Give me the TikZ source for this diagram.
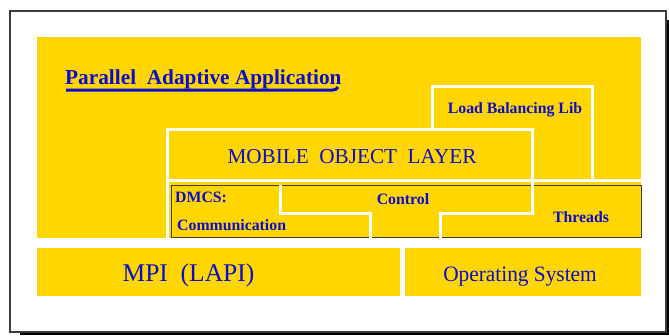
\documentclass[tikz,border=0pt]{standalone}
\usepackage{fontspec}
\setmainfont{Liberation Serif}
\definecolor{gold}{RGB}{255,214,0}
\definecolor{txtblue}{RGB}{12,12,205}
\definecolor{framegray}{RGB}{60,60,60}
\begin{document}
\begin{tikzpicture}[x=1pt,y=-1pt,
  layer/.style={fill=gold,draw=none},
  sep/.style={draw=white,line width=3pt,line cap=rect,line join=miter},
  lbl/.style={text=txtblue,inner sep=0pt,font=\bfseries\fontsize{15.8}{18}\selectfont},
  biglbl/.style={text=txtblue,inner sep=0pt}]
\useasboundingbox (0,0) rectangle (669,335);
% frame with drop shadow
\fill[black] (20,20) rectangle (669,335);
\draw[fill=white,draw=framegray,line width=1.2pt] (10,11) rectangle (666,332);
% yellow layers
\fill[layer] (37,37) rectangle (641,238);
\fill[layer] (37,248) rectangle (400,296);
\fill[layer] (405,248) rectangle (641,296);
% runtime bar
\draw[fill=gold,draw=framegray,line width=1pt] (171,185) rectangle (641,237);
% white separators
\draw[sep] (432,129) -- (432,86) -- (592,86) -- (592,180);
\draw[sep] (167,238) -- (167,129) -- (532,129) -- (532,213) -- (440,213) -- (440,237.5);
\draw[sep] (167,180) -- (641,180);
\draw[sep] (280,186) -- (280,213) -- (370,213) -- (370,237.5);
% texts
\node[biglbl,anchor=base west,font=\bfseries\fontsize{21.3}{24}\selectfont] (app) at (65,84) {Parallel\ \ Adaptive Application};
\draw[txtblue,line width=3pt] (66,90) -- (333,90) to[out=0,in=-120] (338,87);
\node[lbl,anchor=base] (lb) at (515,113) {Load Balancing Lib};
\node[biglbl,anchor=base,font=\fontsize{21.2}{24}\selectfont] (mol) at (352,163) {MOBILE\ \ OBJECT\ \ LAYER};
\node[lbl,anchor=base west] (dmcs) at (175,202) {DMCS:};
\node[lbl,anchor=base west] (comm) at (177,230) {Communication};
\node[lbl,anchor=base] (ctrl) at (403,204) {Control};
\node[lbl,anchor=base] (thr) at (581,222) {Threads};
\node[biglbl,anchor=base,font=\fontsize{25.5}{28}\selectfont] (mpi) at (188.5,281) {MPI\ \ (LAPI)};
\node[biglbl,anchor=base,font=\fontsize{22}{26}\selectfont,xscale=0.97] (os) at (520,281) {Operating System};
\end{tikzpicture}
\end{document}
